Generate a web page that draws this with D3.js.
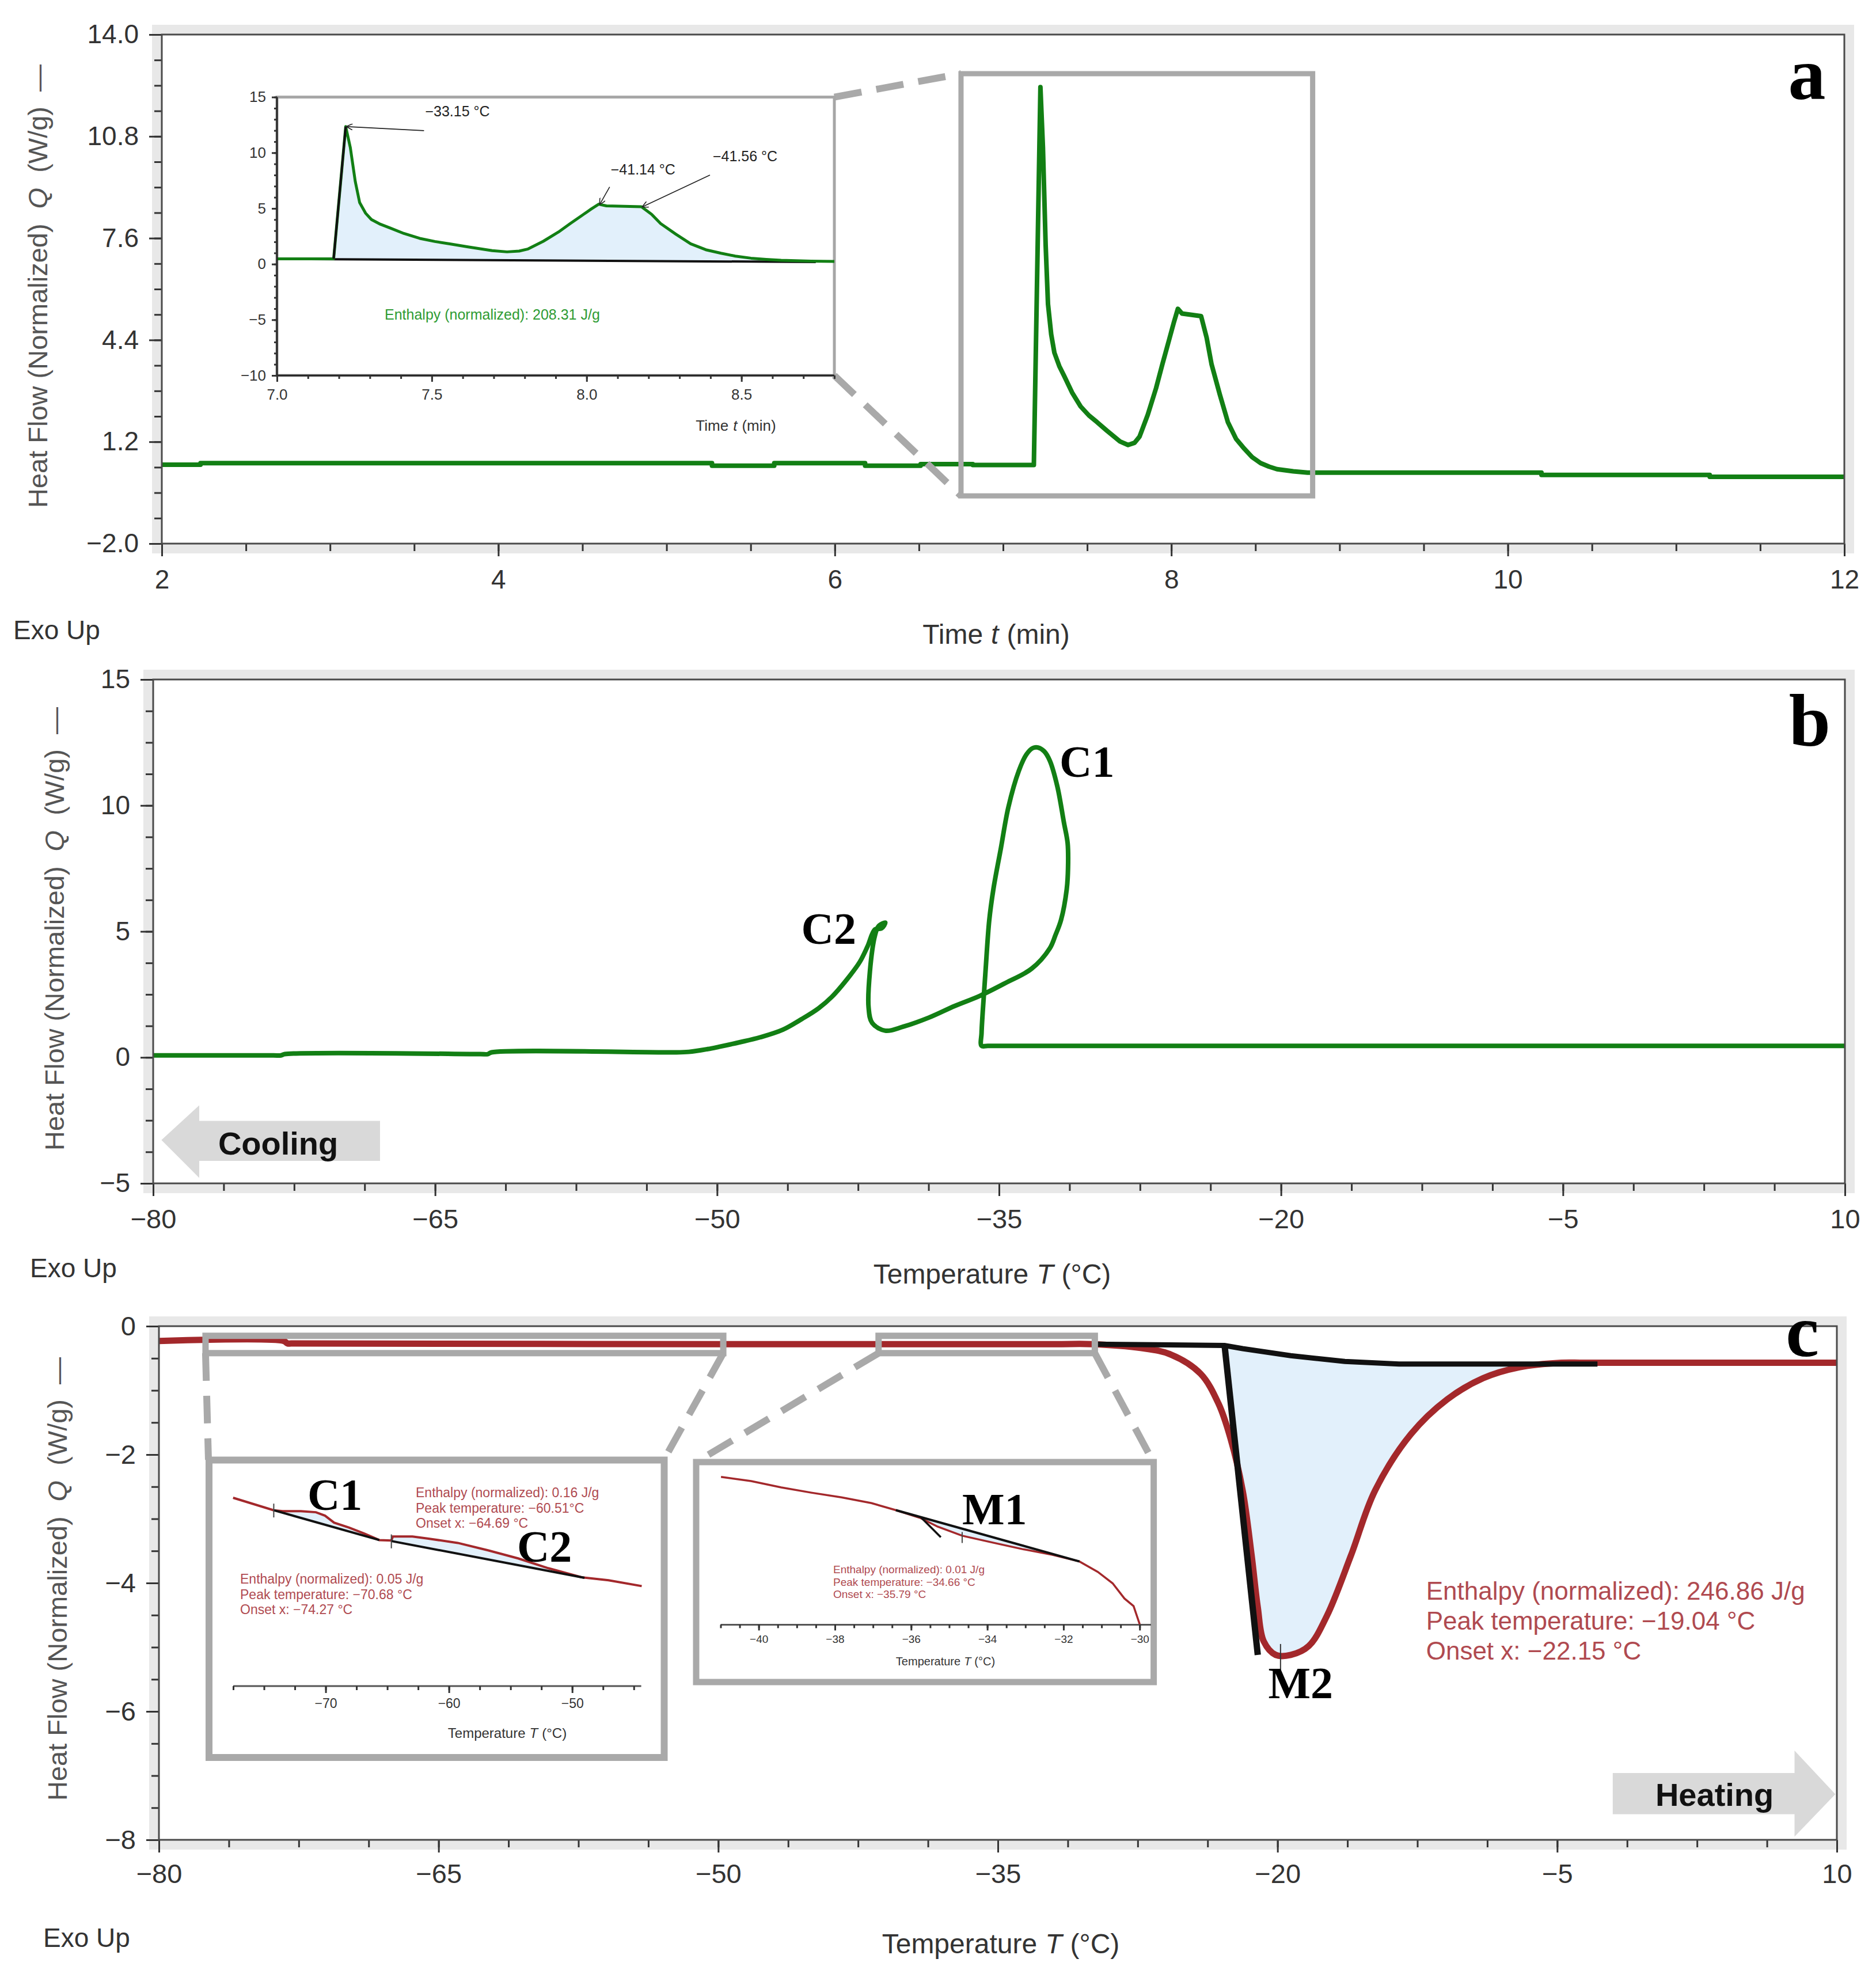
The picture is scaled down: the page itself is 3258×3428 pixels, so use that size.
<!DOCTYPE html>
<html>
<head>
<meta charset="utf-8">
<title>DSC heat flow curves</title>
<script src="https://cdn.jsdelivr.net/npm/d3@7/dist/d3.min.js"></script>
<style>
  body { margin: 0; background: #fff; }
  svg text { font-family: "Liberation Sans", Arial, Helvetica, sans-serif; }
</style>
</head>
<body>
<svg id="chart"></svg>
<script>
// ---------- panel a : heat flow vs time ----------
var timeA = [2.00, 2.23, 2.23, 5.27, 5.27, 5.64, 5.64, 6.18, 6.18, 6.51, 6.51, 6.82, 6.82,
  7.183, 7.222, 7.237, 7.253, 7.267, 7.286, 7.305, 7.334, 7.364, 7.41, 7.461, 7.51, 7.558, 7.617, 7.695, 7.743,
  7.782, 7.811, 7.86, 7.909, 7.947, 7.986, 8.015, 8.039, 8.064, 8.121, 8.177, 8.21, 8.239, 8.288,
  8.336, 8.385, 8.434, 8.48, 8.531, 8.58, 8.628, 8.725, 8.81, 10.2, 10.2, 11.2, 11.2, 12.0];
var flowA = [0.48, 0.48, 0.53, 0.53, 0.45, 0.45, 0.53, 0.53, 0.45, 0.45, 0.50, 0.50, 0.47,
  0.47, 12.35, 10.45, 7.4, 5.53, 4.58, 4.0, 3.58, 3.26, 2.75, 2.31, 2.03, 1.82, 1.55, 1.21, 1.1,
  1.17, 1.36, 2.05, 2.88, 3.64, 4.39, 4.95, 5.38, 5.23, 5.19, 5.15, 4.47, 3.64, 2.69,
  1.82, 1.29, 0.98, 0.72, 0.53, 0.42, 0.34, 0.27, 0.23, 0.23, 0.16, 0.16, 0.10, 0.10];
var baseTimeA = [7.11, 8.74], baseFlowA = [0.45, 0.19];
var riseTimeA = [7.183, 7.222], riseFlowA = [0.47, 12.35];
var zoomTimeA = [6.75, 8.84], zoomFlowA = [-0.50, 12.77];
var peakTimeA = [7.222, 8.039, 8.177], peakFlowA = [12.35, 5.38, 5.15];
var peakLabelA = ["\u221233.15 \u00b0C", "\u221241.14 \u00b0C", "\u221241.56 \u00b0C"];
var enthalpyA = "Enthalpy (normalized): 208.31 J/g";

// ---------- panel b : cooling, heat flow vs temperature ----------
var tempB = [10, -20, -35.6, -35.93, -35.93, -35.86, -35.72, -35.52, -35.3, -34.9, -34.5, -33.95,
  -33.54, -33.2, -32.93, -32.6, -32.3, -31.9, -31.55, -31.35, -31.33, -31.4, -31.7, -32.0, -32.3, -33.27,
  -34.64, -36.0, -37.36, -38.73, -40.1, -41.05, -41.75, -41.94, -41.87, -41.6,
  -41.4, -41.05, -41.25, -41.6, -42.0, -42.4, -42.95, -43.9, -44.6, -45.5,
  -46.5, -47.7, -48.8, -49.9, -50.5, -51.5, -52.5, -62.0, -62.2, -62.6, -73.0, -73.2, -73.6, -80];
var flowB = [0.46, 0.46, 0.46, 0.46, 0.97, 1.89, 3.41, 5.45, 6.68, 8.31, 9.94, 11.37,
  12.03, 12.28, 12.3, 12.15, 11.78, 10.76, 9.33, 8.5, 7.5, 6.67, 5.46, 4.85, 4.33, 3.52,
  2.96, 2.45, 2.04, 1.58, 1.22, 1.06, 1.37, 1.98, 3.41, 4.84,
  5.22, 5.35, 5.12, 5.08, 4.4, 3.8, 3.23, 2.4, 1.95, 1.52,
  1.1, 0.8, 0.6, 0.42, 0.33, 0.22, 0.2, 0.2, 0.13, 0.13, 0.13, 0.08, 0.08, 0.08];

// ---------- panel c : heating, heat flow vs temperature ----------
var tempC = [-80, -73.3, -73.1, -72.9, -50, -32, -29.94, -27.35, -25.74, -24.13, -23.16, -22.52,
  -21.87, -21.39, -21.06, -20.74, -20.1, -19.29, -18.32, -17.35, -16.06, -14.77,
  -12.84, -10.9, -8.97, -7.03, -4.77, -3.5, 10];
var flowC = [-0.23, -0.23, -0.27, -0.27, -0.28, -0.28, -0.28, -0.34, -0.44, -0.74, -1.21, -1.75,
  -2.56, -3.57, -4.38, -4.91, -5.12, -5.12, -4.98, -4.51, -3.57, -2.56,
  -1.68, -1.14, -0.81, -0.64, -0.57, -0.57, -0.57];
var baseTempC = [-29.94, -22.84, -21.87, -19.29, -16.39, -13.48, -2.84];
var baseFlowC = [-0.28, -0.30, -0.35, -0.46, -0.55, -0.59, -0.59];
var tangTempC = [-22.84, -21.06], tangFlowC = [-0.30, -5.12];
var peakTempC = -19.84;
var resultC = ["Enthalpy (normalized): 246.86 J/g", "Peak temperature: \u221219.04 \u00b0C", "Onset x: \u221222.15 \u00b0C"];
var zoomTempC1 = [-77.5, -49.73], zoomTempC2 = [-41.4, -29.8], zoomFlowC = [-0.42, -0.15];

// inset 1 of panel c (C1, C2)
var tempC1 = [-77.51, -74.21, -73.48, -72.02, -70.79, -70.05, -69.32, -68.09, -66.87, -65.65,
  -64.67, -64.55, -62.96, -61.74, -59.28, -56.83, -54.39, -51.94, -49.25, -47.05, -44.36];
var flowC1 = [-0.2214, -0.2327, -0.2335, -0.2335, -0.2345, -0.2376, -0.2439, -0.2484, -0.2538, -0.2597,
  -0.2601, -0.2565, -0.2565, -0.2583, -0.2623, -0.269, -0.2763, -0.2852, -0.2934, -0.2961, -0.3014];
var baseTempC1a = [-74.21, -65.65], baseFlowC1a = [-0.2327, -0.2597];
var baseTempC1b = [-64.67, -49.0], baseFlowC1b = [-0.2606, -0.2939];
var resultC1a = ["Enthalpy (normalized): 0.05 J/g", "Peak temperature: \u221270.68 \u00b0C", "Onset x: \u221274.27 \u00b0C"];
var resultC1b = ["Enthalpy (normalized): 0.16 J/g", "Peak temperature: \u221260.51\u00b0C", "Onset x: \u221264.69 \u00b0C"];

// inset 2 of panel c (M1)
var tempC2 = [-40.99, -40.2, -39.41, -38.62, -37.83, -37.04, -36.4, -35.77, -35.3, -34.66,
  -33.87, -33.08, -32.29, -31.58, -31.1, -30.71, -30.4, -30.16, -30.0];
var flowC2 = [-0.2528, -0.2576, -0.2647, -0.2707, -0.276, -0.2825, -0.2905, -0.2991, -0.3092, -0.3194,
  -0.327, -0.3345, -0.3409, -0.3485, -0.3603, -0.3732, -0.3904, -0.399, -0.4194];
var baseTempC2 = [-36.4, -31.58], baseFlowC2 = [-0.2905, -0.3485];
var tangTempC2 = [-35.73, -35.22], tangFlowC2 = [-0.2991, -0.3211];
var resultC2 = ["Enthalpy (normalized): 0.01 J/g", "Peak temperature: \u221234.66 \u00b0C", "Onset x: \u221235.79 \u00b0C"];

// ticks
var ticksTimeA = [2, 4, 6, 8, 10, 12];
var ticksFlowA = [-2, 1.2, 4.4, 7.6, 10.8, 14];
var ticksTemp = [-80, -65, -50, -35, -20, -5, 10];
var ticksFlowB = [-5, 0, 5, 10, 15];
var ticksFlowC = [-8, -6, -4, -2, 0];
var ticksInsetTime = [7.0, 7.5, 8.0, 8.5];
var ticksInsetFlow = [-10, -5, 0, 5, 10, 15];
var ticksInsetC1 = [-70, -60, -50];
var ticksInsetC2 = [-40, -38, -36, -34, -32, -30];

var W = 3258, H = 3428;
var SERIF = '"Liberation Serif", "Times New Roman", serif';
var GREEN = "#127f14", RED = "#a3282b", TXTRED = "#b04a50", FILL = "#e2f0fb", BOX = "#a9a9a9";
var smooth = d3.curveCatmullRom.alpha(0.5);

var svg = d3.select("#chart").attr("width", W).attr("height", H).attr("viewBox", "0 0 " + W + " " + H);
svg.append("rect").attr("width", W).attr("height", H).attr("fill", "#fff");

var defs = svg.append("defs");
defs.append("marker").attr("id", "arr").attr("viewBox", "0 0 10 10").attr("refX", 9).attr("refY", 5)
  .attr("markerWidth", 7).attr("markerHeight", 7).attr("orient", "auto-start-reverse")
  .append("path").attr("d", "M0,0 L10,5 L0,10").attr("fill", "none").attr("stroke", "#222").attr("stroke-width", 1.4);

var xA = d3.scaleLinear().domain([2, 12]).range([281, 3203]);
var yA = d3.scaleLinear().domain([-2, 14]).range([944, 60]);
var xB = d3.scaleLinear().domain([-80, 10]).range([266, 3204]);
var yB = d3.scaleLinear().domain([-5, 15]).range([2055, 1180]);
var xC = d3.scaleLinear().domain([-80, 10]).range([276, 3190]);
var yC = d3.scaleLinear().domain([-8, 0]).range([3195, 2303]);

function mkLine(x, y, curve) {
  return d3.line().x(function(d) { return x(d[0]); }).y(function(d) { return y(d[1]); }).curve(curve || d3.curveLinear);
}

// polygon between a curve and its baseline, from lo to hi
function band(T, Q, BT, BQ, lo, hi) {
  var base = d3.scaleLinear().domain(BT).range(BQ);
  var top = d3.zip(T, Q).filter(function(p) { return p[0] >= lo && p[0] <= hi; });
  var mid = d3.zip(BT, BQ).filter(function(p) { return p[0] > lo && p[0] < hi; }).reverse();
  return top.concat([[hi, base(hi)]], mid, [[lo, base(lo)]]);
}

function shadow(x, y) {
  var x0 = x.range()[0], x1 = x.range()[1], yb = y.range()[0], yt = y.range()[1];
  svg.append("rect").attr("x", x0 - 9).attr("y", yt - 9).attr("width", x1 - x0 + 18).attr("height", yb - yt + 18)
    .attr("fill", "none").attr("stroke", "#e8e8e8").attr("stroke-width", 16);
}
function border(x, y) {
  var x0 = x.range()[0], x1 = x.range()[1], yb = y.range()[0], yt = y.range()[1];
  svg.append("rect").attr("x", x0).attr("y", yt).attr("width", x1 - x0).attr("height", yb - yt)
    .attr("fill", "none").attr("stroke", "#4a4a4a").attr("stroke-width", 3);
}

function ticks(axisFn, scale, at, major, minor, bigLen, smallLen, pad, fmt, size) {
  var g1 = svg.append("g").attr("transform", at).call(axisFn(scale).tickValues(minor).tickSize(smallLen).tickFormat(""));
  var g2 = svg.append("g").attr("transform", at).call(axisFn(scale).tickValues(major).tickSize(bigLen).tickPadding(pad).tickFormat(fmt));
  [g1, g2].forEach(function(g) {
    g.select(".domain").remove();
    g.selectAll("line").attr("stroke", "#333").attr("stroke-width", 3);
    g.selectAll("text").attr("font-size", size).attr("fill", "#333");
  });
}

function yTitle(cx, cy) {
  var t = svg.append("text").attr("transform", "translate(" + cx + "," + cy + ") rotate(-90)")
    .attr("text-anchor", "middle").attr("dominant-baseline", "central").attr("font-size", 47).attr("fill", "#555");
  t.append("tspan").text("Heat Flow (Normalized)");
  t.append("tspan").attr("dx", 26).attr("font-style", "italic").text("Q");
  t.append("tspan").attr("dx", 26).text("(W/g)");
  t.append("tspan").attr("dx", 26).text("\u2014");
}
function xTitle(cx, by, main, sym, unit, size, gap) {
  var t = svg.append("text").attr("x", cx).attr("y", by).attr("text-anchor", "middle").attr("font-size", size || 48).attr("fill", "#333");
  t.append("tspan").text(main);
  t.append("tspan").attr("dx", gap || 14).attr("font-style", "italic").text(sym);
  t.append("tspan").attr("dx", gap || 14).text(unit);
}
function label(x, y, s, size, anchor) {
  return svg.append("text").attr("x", x).attr("y", y).attr("text-anchor", anchor || "start")
    .attr("font-weight", "bold").attr("font-size", size).attr("fill", "#000")
    .style("font-family", SERIF).text(s);
}
function lines(x, y0, step, arr, size, color) {
  arr.forEach(function(s, i) {
    svg.append("text").attr("x", x).attr("y", y0 + i * step).attr("font-size", size).attr("fill", color).text(s);
  });
}
function dashed(p, q) {
  svg.append("line").attr("x1", p[0]).attr("y1", p[1]).attr("x2", q[0]).attr("y2", q[1])
    .attr("stroke", BOX).attr("stroke-width", 12).attr("stroke-dasharray", "48,26");
}

shadow(xA, yA); shadow(xB, yB); shadow(xC, yC);

// ================= panel a =================
ticks(d3.axisBottom, xA, "translate(0,944)", ticksTimeA, d3.range(2, 12.001, 0.5), 22, 13, 23, d3.format("d"), 46);
ticks(d3.axisLeft, yA, "translate(281,0)", ticksFlowA, d3.range(-2, 14.001, 0.8), 22, 13, 18, d3.format(".1f"), 46);

svg.append("path").datum(d3.zip(timeA, flowA)).attr("d", mkLine(xA, yA))
  .attr("fill", "none").attr("stroke", GREEN).attr("stroke-width", 8).attr("stroke-linejoin", "round");

svg.append("rect").attr("x", xA(zoomTimeA[0])).attr("y", yA(zoomFlowA[1]))
  .attr("width", xA(zoomTimeA[1]) - xA(zoomTimeA[0])).attr("height", yA(zoomFlowA[0]) - yA(zoomFlowA[1]))
  .attr("fill", "none").attr("stroke", BOX).attr("stroke-width", 9);
border(xA, yA);

// inset of panel a
var xAi = d3.scaleLinear().domain([7.0, 8.8]).range([481, 1449]);
var yAi = d3.scaleLinear().domain([-10, 15]).range([652, 168.6]);
dashed([1449, 168.6], [xA(zoomTimeA[0]), yA(zoomFlowA[1])]);
dashed([1449, 652], [xA(zoomTimeA[0]), yA(zoomFlowA[0])]);
svg.append("rect").attr("x", 481).attr("y", 168.6).attr("width", 968).attr("height", 483.4)
  .attr("fill", "#fff").attr("stroke", "#a6a6a6").attr("stroke-width", 5);
defs.append("clipPath").attr("id", "clipAi").append("rect").attr("x", 481).attr("y", 168.6).attr("width", 968).attr("height", 483.4);
var gAi = svg.append("g").attr("clip-path", "url(#clipAi)");
gAi.append("path").datum(band(timeA, flowA, baseTimeA, baseFlowA, 7.183, 8.74)).attr("d", mkLine(xAi, yAi))
  .attr("fill", FILL).attr("stroke", "none");
gAi.append("path").datum(d3.zip(baseTimeA, baseFlowA)).attr("d", mkLine(xAi, yAi)).attr("stroke", "#111").attr("stroke-width", 4).attr("fill", "none");
gAi.append("path").datum(d3.zip(timeA, flowA)).attr("d", mkLine(xAi, yAi))
  .attr("fill", "none").attr("stroke", GREEN).attr("stroke-width", 5).attr("stroke-linejoin", "round");
gAi.append("path").datum(d3.zip(riseTimeA, riseFlowA)).attr("d", mkLine(xAi, yAi)).attr("stroke", "#111").attr("stroke-width", 4).attr("fill", "none");
svg.append("line").attr("x1", 481).attr("x2", 481).attr("y1", 168.6).attr("y2", 652).attr("stroke", "#222").attr("stroke-width", 3);
svg.append("line").attr("x1", 481).attr("x2", 1449).attr("y1", 652).attr("y2", 652).attr("stroke", "#222").attr("stroke-width", 3);
ticks(d3.axisBottom, xAi, "translate(0,652)", ticksInsetTime, d3.range(7.0, 8.801, 0.1), 11, 6, 13, d3.format(".1f"), 26);
ticks(d3.axisLeft, yAi, "translate(481,0)", ticksInsetFlow, d3.range(-10, 15.001, 1), 9, 5, 10, d3.format("d"), 26);
xTitle(1278, 748, "Time", "t", "(min)", 26, 8);
// peak annotations (offsets from the peak point)
var offs = [[138, -18, 136, 7], [21, -52, 19, -30], [124, -79, 119, -55]];
peakTimeA.forEach(function(tp, i) {
  var px = xAi(tp), py = yAi(peakFlowA[i]), o = offs[i];
  svg.append("line").attr("x1", px + o[2]).attr("y1", py + o[3]).attr("x2", px + 2).attr("y2", py)
    .attr("stroke", "#222").attr("stroke-width", 1.6).attr("marker-end", "url(#arr)");
  svg.append("text").attr("x", px + o[0]).attr("y", py + o[1]).attr("font-size", 25).attr("fill", "#222").text(peakLabelA[i]);
});
svg.append("text").attr("x", 668).attr("y", 555).attr("font-size", 25).attr("fill", "#2e9b33").text(enthalpyA);

xTitle(1730, 1118, "Time", "t", "(min)");
svg.append("text").attr("x", 23).attr("y", 1110).attr("font-size", 46).attr("fill", "#333").text("Exo Up");
yTitle(65, 497);
label(3138, 172, "a", 130, "middle");

// ================= panel b =================
ticks(d3.axisBottom, xB, "translate(0,2055)", ticksTemp, d3.range(-80, 10.001, 3.75), 22, 13, 23, d3.format("d"), 47);
ticks(d3.axisLeft, yB, "translate(266,0)", ticksFlowB, d3.range(-5, 15.001, 1.25), 22, 13, 18, d3.format("d"), 46);
svg.append("path").datum(d3.zip(tempB, flowB)).attr("d", mkLine(xB, yB, smooth))
  .attr("fill", "none").attr("stroke", GREEN).attr("stroke-width", 8).attr("stroke-linejoin", "round");
border(xB, yB);
label(xB(-31.78), yB(11.14), "C1", 78);
label(xB(-45.52), yB(4.51), "C2", 78);
// cooling arrow
var coolT = [-79.56, -77.55, -77.55, -67.93, -67.93, -77.55, -77.55];
var coolQ = [-3.28, -1.9, -2.52, -2.52, -4.11, -4.11, -4.78];
svg.append("path").datum(d3.zip(coolT, coolQ)).attr("d", function(d) { return mkLine(xB, yB)(d) + "Z"; }).attr("fill", "#d9d9d9");
svg.append("text").attr("x", xB(-73.35)).attr("y", yB(-3.86)).attr("text-anchor", "middle")
  .attr("font-size", 56).attr("font-weight", "bold").attr("fill", "#111").text("Cooling");
xTitle(1723, 2229, "Temperature", "T", "(\u00b0C)");
svg.append("text").attr("x", 52).attr("y", 2218).attr("font-size", 46).attr("fill", "#333").text("Exo Up");
yTitle(94, 1613);
label(3143, 1295, "b", 130, "middle");

// ================= panel c =================
ticks(d3.axisBottom, xC, "translate(0,3195)", ticksTemp, d3.range(-80, 10.001, 3.75), 22, 13, 20, d3.format("d"), 47);
ticks(d3.axisLeft, yC, "translate(276,0)", ticksFlowC, d3.range(-8, 0.001, 0.5), 22, 13, 18, d3.format("d"), 47);
svg.append("path").datum(band(tempC, flowC, baseTempC, baseFlowC, -22.84, -4.77)).attr("d", mkLine(xC, yC, smooth))
  .attr("fill", FILL);
svg.append("path").datum(d3.zip(tempC, flowC)).attr("d", mkLine(xC, yC, smooth))
  .attr("fill", "none").attr("stroke", RED).attr("stroke-width", 11).attr("stroke-linejoin", "round");
svg.append("path").datum(d3.zip(baseTempC, baseFlowC)).attr("d", mkLine(xC, yC))
  .attr("fill", "none").attr("stroke", "#111").attr("stroke-width", 9);
svg.append("path").datum(d3.zip(tangTempC, tangFlowC)).attr("d", mkLine(xC, yC))
  .attr("fill", "none").attr("stroke", "#111").attr("stroke-width", 11);
svg.append("line").attr("x1", xC(peakTempC)).attr("x2", xC(peakTempC)).attr("y1", yC(-4.95)).attr("y2", yC(-5.35))
  .attr("stroke", "#333").attr("stroke-width", 2);
[zoomTempC1, zoomTempC2].forEach(function(z) {
  svg.append("rect").attr("x", xC(z[0])).attr("y", yC(zoomFlowC[1])).attr("width", xC(z[1]) - xC(z[0]))
    .attr("height", yC(zoomFlowC[0]) - yC(zoomFlowC[1])).attr("fill", "none").attr("stroke", BOX).attr("stroke-width", 11);
});
dashed([xC(zoomTempC1[0]), yC(zoomFlowC[0])], [362, 2535]);
dashed([xC(zoomTempC1[1]), yC(zoomFlowC[0])], [1153, 2535]);
dashed([xC(zoomTempC2[0]), yC(zoomFlowC[0])], [1209, 2539]);
dashed([xC(zoomTempC2[1]), yC(zoomFlowC[0])], [2003, 2539]);

// inset 1 (C1, C2)
svg.append("rect").attr("x", 363).attr("y", 2535.5).attr("width", 790.5).attr("height", 516.5)
  .attr("fill", "#fff").attr("stroke", BOX).attr("stroke-width", 12);
var xC1 = d3.scaleLinear().domain([-77.5, -44.4]).range([405, 1113.6]);
var yC1 = d3.scaleLinear().domain([-0.392, -0.20]).range([2928, 2560]);
svg.append("line").attr("x1", 405).attr("x2", 1113.6).attr("y1", 2928).attr("y2", 2928).attr("stroke", "#555").attr("stroke-width", 3);
ticks(d3.axisBottom, xC1, "translate(0,2928)", ticksInsetC1, d3.range(-77.5, -44.9, 2.5), 12, 7, 10, d3.format("d"), 23);
svg.append("path").datum(band(tempC1, flowC1, baseTempC1a, baseFlowC1a, -74.21, -65.65)).attr("d", mkLine(xC1, yC1)).attr("fill", FILL);
svg.append("path").datum(band(tempC1, flowC1, baseTempC1b, baseFlowC1b, -64.67, -49.0)).attr("d", mkLine(xC1, yC1)).attr("fill", FILL);
svg.append("path").datum(d3.zip(tempC1, flowC1)).attr("d", mkLine(xC1, yC1)).attr("fill", "none").attr("stroke", RED).attr("stroke-width", 4);
[[baseTempC1a, baseFlowC1a], [baseTempC1b, baseFlowC1b]].forEach(function(b) {
  svg.append("path").datum(d3.zip(b[0], b[1])).attr("d", mkLine(xC1, yC1)).attr("fill", "none").attr("stroke", "#111").attr("stroke-width", 4);
});
[[-74.21, -0.2267, -0.2392], [-64.67, -0.2546, -0.2672]].forEach(function(c) {
  svg.append("line").attr("x1", xC1(c[0])).attr("x2", xC1(c[0])).attr("y1", yC1(c[1])).attr("y2", yC1(c[2])).attr("stroke", "#444").attr("stroke-width", 2);
});
lines(722, 2600, 26.5, resultC1b, 23, TXTRED);
lines(417, 2750, 26.5, resultC1a, 23, TXTRED);
label(534, 2622, "C1", 78);
label(898, 2712, "C2", 78);
xTitle(881, 3018, "Temperature", "T", "(\u00b0C)", 24, 7);

// inset 2 (M1)
svg.append("rect").attr("x", 1209).attr("y", 2539).attr("width", 794.6).attr("height", 382)
  .attr("fill", "#fff").attr("stroke", BOX).attr("stroke-width", 11);
var xC2 = d3.scaleLinear().domain([-41, -29.7]).range([1251.5, 1999.1]);
var yC2 = d3.scaleLinear().domain([-0.42, -0.24]).range([2821.4, 2545]);
svg.append("line").attr("x1", 1251.5).attr("x2", 1999).attr("y1", 2821.4).attr("y2", 2821.4).attr("stroke", "#555").attr("stroke-width", 3);
ticks(d3.axisBottom, xC2, "translate(0,2821.4)", ticksInsetC2, d3.range(-41, -29.99, 0.5), 10, 6, 8, d3.format("d"), 19);
svg.append("path").datum(band(tempC2, flowC2, baseTempC2, baseFlowC2, -36.4, -31.58)).attr("d", mkLine(xC2, yC2)).attr("fill", FILL);
svg.append("path").datum(d3.zip(tempC2, flowC2)).attr("d", mkLine(xC2, yC2)).attr("fill", "none").attr("stroke", RED).attr("stroke-width", 3.5);
svg.append("path").datum(d3.zip(baseTempC2, baseFlowC2)).attr("d", mkLine(xC2, yC2)).attr("fill", "none").attr("stroke", "#111").attr("stroke-width", 4);
svg.append("path").datum(d3.zip(tangTempC2, tangFlowC2)).attr("d", mkLine(xC2, yC2)).attr("fill", "none").attr("stroke", "#111").attr("stroke-width", 3.5);
svg.append("line").attr("x1", xC2(-34.66)).attr("x2", xC2(-34.66)).attr("y1", yC2(-0.3152)).attr("y2", yC2(-0.3276)).attr("stroke", "#444").attr("stroke-width", 2);
lines(1447, 2732, 21.5, resultC2, 19, TXTRED);
label(1671, 2647, "M1", 78);
xTitle(1642, 2892, "Temperature", "T", "(\u00b0C)", 20, 6);

border(xC, yC);
lines(xC(-12.03), 2778, 52, resultC, 44, TXTRED);
label(xC(-20.5), yC(-5.795), "M2", 78);
var heatT = [9.92, 7.73, 7.73, -2.02, -2.02, 7.73, 7.73];
var heatQ = [-7.29, -6.61, -6.96, -6.96, -7.6, -7.6, -7.95];
svg.append("path").datum(d3.zip(heatT, heatQ)).attr("d", function(d) { return mkLine(xC, yC)(d) + "Z"; }).attr("fill", "#d9d9d9");
svg.append("text").attr("x", xC(3.44)).attr("y", yC(-7.475)).attr("text-anchor", "middle")
  .attr("font-size", 56).attr("font-weight", "bold").attr("fill", "#111").text("Heating");
xTitle(1738, 3392, "Temperature", "T", "(\u00b0C)");
svg.append("text").attr("x", 75).attr("y", 3381).attr("font-size", 46).attr("fill", "#333").text("Exo Up");
yTitle(99, 2742);
label(3130, 2355, "c", 130, "middle");
</script>
</body>
</html>
